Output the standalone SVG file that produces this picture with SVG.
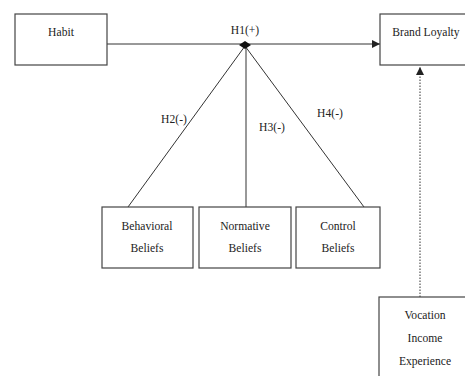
<svg xmlns="http://www.w3.org/2000/svg" width="465" height="376" viewBox="0 0 465 376">
<style>
.box{fill:#fff;stroke:#444;stroke-width:1.2}
.t{font-family:"Liberation Serif","Times New Roman",serif;font-size:11.6px;fill:#222;text-anchor:middle}
.ln{stroke:#333;stroke-width:1;fill:none}
</style>
<defs>
<marker id="ah" viewBox="0 0 8 8" refX="8" refY="4" markerWidth="8" markerHeight="8" markerUnits="userSpaceOnUse" orient="auto">
<path d="M0,0 L8,4 L0,8 z" fill="#222"/>
</marker>
</defs>
<rect width="465" height="376" fill="#fff"/>
<g id="connectors">
<line class="ln" x1="107" y1="44" x2="380" y2="44" marker-end="url(#ah)"/>
<line class="ln" x1="245" y1="46" x2="128" y2="207"/>
<line class="ln" x1="246" y1="46" x2="246" y2="207"/>
<line class="ln" x1="245" y1="46" x2="364" y2="207"/>
<path d="M239,45 L245,41 L251,45 L245,49 z" fill="#111"/>
<line class="ln" x1="420" y1="297" x2="420" y2="67" stroke-dasharray="1.5,1.5" marker-end="url(#ah)"/>
<text class="t" x="245" y="34">H1(+)</text>
<text class="t" x="174" y="123">H2(-)</text>
<text class="t" x="272" y="131">H3(-)</text>
<text class="t" x="330" y="117">H4(-)</text>
</g>
<g id="habit">
<rect class="box" x="15" y="14" width="92" height="51"/>
<text class="t" x="61" y="36">Habit</text>
</g>
<g id="brand-loyalty">
<rect class="box" x="380" y="14" width="92" height="51"/>
<text class="t" x="426" y="36">Brand Loyalty</text>
</g>
<g id="behavioral-beliefs">
<rect class="box" x="102" y="207" width="91" height="61"/>
<text class="t" x="147" y="230">Behavioral</text>
<text class="t" x="147" y="252">Beliefs</text>
</g>
<g id="normative-beliefs">
<rect class="box" x="199" y="207" width="92" height="61"/>
<text class="t" x="245" y="230">Normative</text>
<text class="t" x="245" y="252">Beliefs</text>
</g>
<g id="control-beliefs">
<rect class="box" x="296" y="207" width="84" height="61"/>
<text class="t" x="338" y="230">Control</text>
<text class="t" x="338" y="252">Beliefs</text>
</g>
<g id="demographics">
<rect class="box" x="379" y="297" width="92" height="85"/>
<text class="t" x="425" y="319">Vocation</text>
<text class="t" x="425" y="342">Income</text>
<text class="t" x="425" y="365">Experience</text>
</g>
</svg>
